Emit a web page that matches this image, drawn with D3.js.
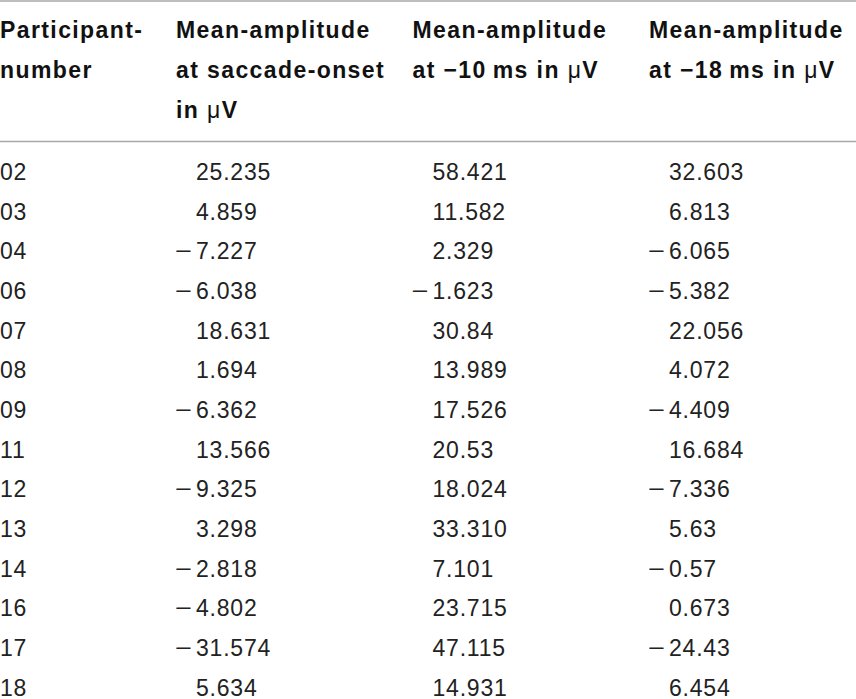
<!DOCTYPE html>
<html>
<head>
<meta charset="utf-8">
<script src="https://cdn.jsdelivr.net/npm/d3@7"></script>
<style>
  body { margin: 0; background: #fff; }
  svg { display: block; }
</style>
</head>
<body>
<div id="table"></div>
<script>
// table contents
const participants = ['02', '03', '04', '06', '07', '08', '09', '11', '12', '13', '14', '16', '17', '18'];
const ampOnset = ['25.235', '4.859', '-7.227', '-6.038', '18.631', '1.694', '-6.362', '13.566', '-9.325', '3.298', '-2.818', '-4.802', '-31.574', '5.634'];
const ampMinus10 = ['58.421', '11.582', '2.329', '-1.623', '30.84', '13.989', '17.526', '20.53', '18.024', '33.310', '7.101', '23.715', '47.115', '14.931'];
const ampMinus18 = ['32.603', '6.813', '-6.065', '-5.382', '22.056', '4.072', '-4.409', '16.684', '-7.336', '5.63', '-0.57', '0.673', '-24.43', '6.454'];

const columnKeys = ['onset', 'm10', 'm18'];
const headerLines = [
  ['Participant-', 'number'],
  ['Mean-amplitude', 'at saccade-onset', 'in |μ|V'],
  ['Mean-amplitude', 'at −10\u2009ms in |μ|V'],
  ['Mean-amplitude', 'at −18\u2009ms in |μ|V'],
];

const width = 856;
const height = 699;

const svg = d3
  .select('#table')
  .append('svg')
  .attr('width', width)
  .attr('height', height);

// column and row positions
const x = d3.scalePoint().domain(columnKeys).range([176, 649]);
const colX = [0].concat(columnKeys.map((k) => x(k)));
const y = d3.scalePoint().domain(participants).range([180, 695.5]);
const headerY = d3.scalePoint().domain([0, 1, 2]).range([38, 118]);

// rules
svg.append('line')
  .attr('x1', 0).attr('x2', width)
  .attr('y1', 1).attr('y2', 1)
  .attr('stroke', '#a8a8a8')
  .attr('stroke-width', 1.6);
svg.append('line')
  .attr('x1', 0).attr('x2', width)
  .attr('y1', 141.5).attr('y2', 141.5)
  .attr('stroke', '#a8a8a8')
  .attr('stroke-width', 1.6);

// header
const header = svg.append('g')
  .style('font-family', '"Liberation Sans", Arial, Helvetica, sans-serif')
  .style('font-size', '23px')
  .style('font-weight', 'bold')
  .style('letter-spacing', '1.4px')
  .attr('fill', '#111');

headerLines.forEach((lines, ci) => {
  lines.forEach((line, li) => {
    const t = header.append('text')
      .attr('x', colX[ci])
      .attr('y', headerY(li));
    // the micro sign is set in a lighter upright face
    line.split('|').forEach((part, pi) => {
      t.append('tspan')
        .style('font-weight', pi % 2 === 1 ? 'normal' : 'bold')
        .text(part);
    });
  });
});

// body
const body = svg.append('g')
  .style('font-family', '"Liberation Sans", Arial, Helvetica, sans-serif')
  .style('font-size', '23px')
  .style('letter-spacing', '0.8px')
  .attr('fill', '#222');

body.selectAll('text.pid')
  .data(participants)
  .enter()
  .append('text')
  .attr('class', 'pid')
  .attr('x', 0)
  .attr('y', (d) => y(d))
  .text((d) => d);

const columns = { onset: ampOnset, m10: ampMinus10, m18: ampMinus18 };
const digitOffset = 20;

columnKeys.forEach((key) => {
  const cells = columns[key].map((v, i) => ({ v, p: participants[i] }));
  const g = body.append('g');
  // digits line up; the minus hangs in front
  g.selectAll('text.val')
    .data(cells)
    .enter()
    .append('text')
    .attr('class', 'val')
    .attr('x', x(key) + digitOffset)
    .attr('y', (d) => y(d.p))
    .text((d) => d.v.replace('-', ''));
  g.selectAll('text.neg')
    .data(cells.filter((d) => d.v.startsWith('-')))
    .enter()
    .append('text')
    .attr('class', 'neg')
    .attr('x', x(key) - 1)
    .attr('y', (d) => y(d.p))
    .attr('textLength', 17)
    .attr('lengthAdjust', 'spacingAndGlyphs')
    .style('letter-spacing', '0px')
    .text('−');
});
</script>
</body>
</html>
